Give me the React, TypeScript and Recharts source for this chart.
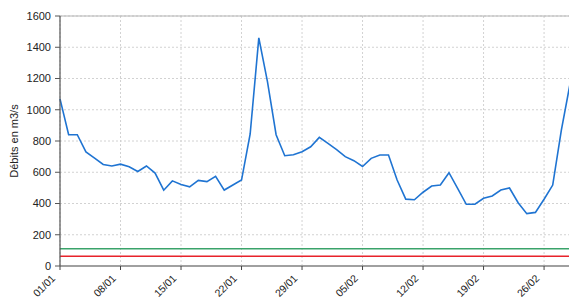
import React from 'react';
import { LineChart, Line, XAxis, YAxis, CartesianGrid, ReferenceLine } from 'recharts';

const dates = [
  '01/01', '02/01', '03/01', '04/01', '05/01', '06/01', '07/01', '08/01', '09/01', '10/01',
  '11/01', '12/01', '13/01', '14/01', '15/01', '16/01', '17/01', '18/01', '19/01', '20/01',
  '21/01', '22/01', '23/01', '24/01', '25/01', '26/01', '27/01', '28/01', '29/01', '30/01',
  '31/01', '01/02', '02/02', '03/02', '04/02', '05/02', '06/02', '07/02', '08/02', '09/02',
  '10/02', '11/02', '12/02', '13/02', '14/02', '15/02', '16/02', '17/02', '18/02', '19/02',
  '20/02', '21/02', '22/02', '23/02', '24/02', '25/02', '26/02', '27/02', '28/02', '01/03',
];

const debits = [
  1070, 840, 840, 730, 690, 650, 640, 652, 635, 605,
  640, 595, 485, 545, 522, 507, 548, 540, 574, 486,
  518, 550, 845, 1460, 1180, 840, 706, 712, 731, 763,
  823, 785, 745, 700, 674, 637, 689, 710, 710, 550,
  428, 424, 472, 512, 518, 597, 497, 395, 395, 433,
  448, 486, 499, 405, 335, 343, 427, 518, 870, 1165,
];

const xTicks = ['01/01', '08/01', '15/01', '22/01', '29/01', '05/02', '12/02', '19/02', '26/02'];
const yTicks = [0, 200, 400, 600, 800, 1000, 1200, 1400, 1600];
const seuilVert = 110;
const seuilRouge = 62;

const data = dates.map((d, i) => ({ date: d, debit: debits[i] }));

const FONT = 'Liberation Sans, Arial, sans-serif';

const XTick = (props: any) => {
  const { x, y, payload } = props;
  return (
    <g transform={`translate(${x - 4},${y + 7})`}>
      <text x={0} y={0} textAnchor="end" transform="rotate(-45)" fontSize={10.5} fill="#222" fontFamily={FONT}>
        {payload.value}
      </text>
    </g>
  );
};

export default function App() {
  return (
    <div style={{ position: 'absolute', left: 8, top: 8, width: 561, height: 292, overflow: 'hidden' }}>
      <LineChart width={562} height={292} data={data} margin={{ top: 8, right: 0, left: 0, bottom: 0 }}>
        <CartesianGrid stroke="#d2d2d2" strokeDasharray="2 2" />
        <XAxis
          dataKey="date"
          ticks={xTicks}
          interval={0}
          height={34}
          tick={<XTick />}
          tickSize={4}
          tickLine={{ stroke: '#444' }}
          axisLine={{ stroke: '#a0a0a0', strokeWidth: 2 }}
        />
        <YAxis
          width={52}
          domain={[0, 1600]}
          ticks={yTicks}
          interval={0}
          tickSize={5}
          tickMargin={4}
          tick={{ fontSize: 11, fill: '#222', fontFamily: FONT }}
          tickLine={{ stroke: '#555' }}
          axisLine={{ stroke: '#555', strokeWidth: 1.2 }}
          label={{
            value: 'Débits en m3/s',
            angle: -90,
            position: 'insideLeft',
            offset: 6,
            style: { textAnchor: 'middle', fontSize: 11, fill: '#222', fontFamily: FONT },
          }}
        />
        <ReferenceLine y={1600} stroke="#b4b4b4" strokeWidth={1.2} />
        <ReferenceLine y={seuilVert} stroke="#3aa36a" strokeWidth={1.5} />
        <ReferenceLine y={seuilRouge} stroke="#e8232b" strokeWidth={1.5} />
        <Line
          type="linear"
          dataKey="debit"
          stroke="#1f74d2"
          strokeWidth={1.6}
          dot={false}
          isAnimationActive={false}
        />
      </LineChart>
    </div>
  );
}
